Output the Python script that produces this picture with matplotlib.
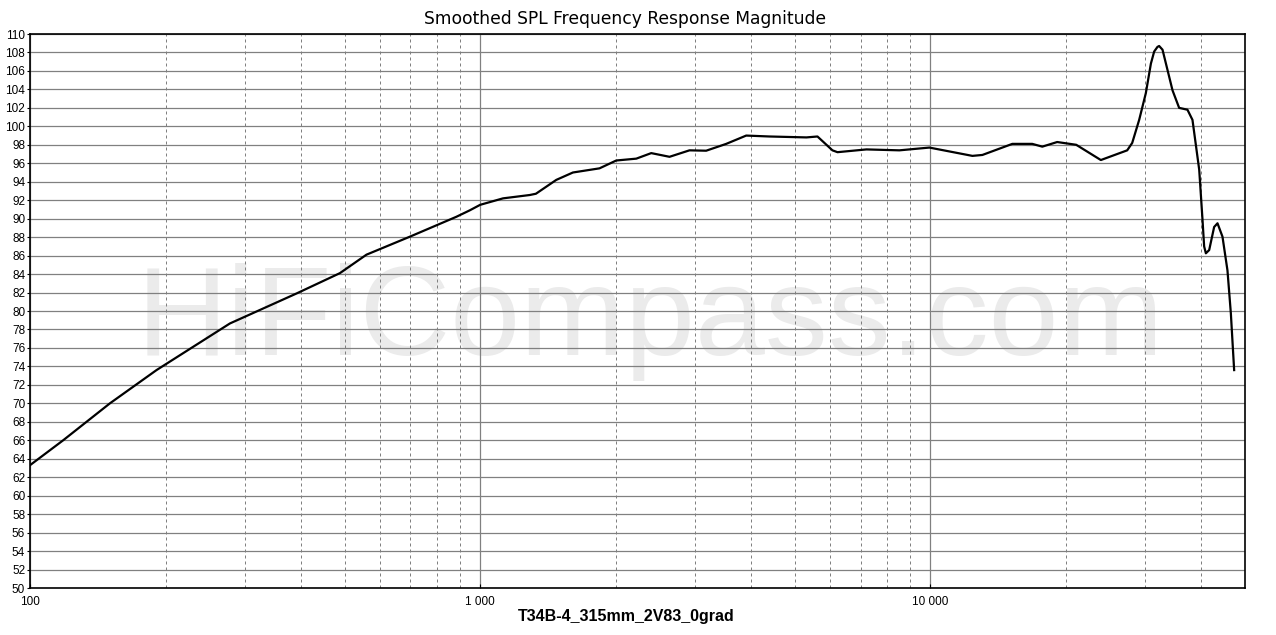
import numpy as np
import matplotlib
matplotlib.use("Agg")
import matplotlib.pyplot as plt
from matplotlib.ticker import FixedLocator, NullFormatter, LogLocator

# ---- data ----
freq_hz = [100, 118.5, 150.5, 191, 278, 391, 488, 559, 698, 885, 948, 1000,
           1124, 1288, 1330, 1476, 1607, 1841, 2006, 2222, 2399, 2634, 2917,
           3177, 3520, 3899, 4391, 5306, 5614, 6061, 6219, 7212, 8535, 9950,
           12400, 13050, 15210, 16840, 17730, 19130, 21090, 23920, 27370,
           28080, 29100, 30110, 30900, 31420, 31950, 32230, 32790, 33640,
           34510, 35700, 37250, 38220, 39560, 40230, 40570, 40930, 41630,
           42700, 43440, 44560, 45710, 46510, 47300]
spl_db = [63.3, 66.0, 70.0, 73.6, 78.65, 81.9, 84.1, 86.1, 88.05, 90.2, 90.9, 91.5,
          92.2, 92.56, 92.7, 94.2, 95.0, 95.45, 96.3, 96.5, 97.1, 96.7, 97.4,
          97.36, 98.1, 99.0, 98.9, 98.8, 98.9, 97.4, 97.2, 97.5, 97.4, 97.7,
          96.8, 96.9, 98.1, 98.1, 97.8, 98.3, 98.0, 96.35, 97.4,
          98.2, 100.7, 103.6, 106.8, 108.1, 108.6, 108.7, 108.3, 106.1,
          103.9, 102.0, 101.8, 100.7, 95.3, 89.9, 87.0, 86.25, 86.6,
          89.1, 89.5, 88.05, 84.4, 79.75, 73.6]

y_ticks = list(range(50, 111, 2))
x_major = [100, 1000, 10000]
x_major_labels = ["100", "1 000", "10 000"]
title = "Smoothed SPL Frequency Response Magnitude"
xlabel = "T34B-4_315mm_2V83_0grad"
watermark = "HiFiCompass.com"

# ---- figure ----
W, H = 1276, 635
fig = plt.figure(figsize=(W / 100, H / 100), dpi=100)
ax = fig.add_axes([30 / W, 1 - 588 / H, (1245 - 30) / W, (588 - 34) / H])
ax.set_zorder(1)
ax.set_facecolor("none")

# watermark behind everything
fig.text(650 / W, 1 - 355 / H, watermark, family="Liberation Sans",
         fontsize=90.5, color="#ebebeb", ha="center", va="baseline", zorder=-5)

ax.set_xscale("log")
ax.set_xlim(100, 50000)
ax.set_ylim(50, 110)

ax.xaxis.set_major_locator(FixedLocator(x_major))
ax.set_xticklabels(x_major_labels)
ax.xaxis.set_minor_locator(LogLocator(base=10, subs=np.arange(2, 10)))
ax.xaxis.set_minor_formatter(NullFormatter())
ax.set_yticks(y_ticks)
ax.set_yticklabels([str(v) for v in y_ticks])

ax.grid(True, which="major", axis="both", color="#808080", linewidth=0.9, zorder=1)
ax.grid(True, which="minor", axis="x", color="#808080", linewidth=0.72,
        linestyle=(0, (3, 3)), zorder=1)
ax.set_axisbelow(True)

ax.plot(freq_hz, spl_db, color="black", linewidth=1.6, zorder=3,
        solid_joinstyle="round")

for s in ax.spines.values():
    s.set_color("black")
    s.set_linewidth(1.2)

ax.tick_params(axis="y", which="major", direction="out", length=2.5, width=0.8,
               pad=1, labelsize=8.5, colors="black")
ax.tick_params(axis="x", which="major", direction="in", length=3, width=0.8,
               pad=6, labelsize=8.5, colors="black")
ax.tick_params(axis="x", which="minor", length=0)
for lab in ax.get_xticklabels() + ax.get_yticklabels():
    lab.set_family("Liberation Sans")

fig.text(625 / W, 1 - 19 / H, title, family="DejaVu Sans", fontsize=12.3,
         ha="center", va="center", color="black")
fig.text(626 / W, 1 - 617 / H, xlabel, family="Liberation Sans", fontsize=11.5,
         fontweight="bold", ha="center", va="center", color="black")

fig.savefig("out.png", dpi=100, facecolor="white")
